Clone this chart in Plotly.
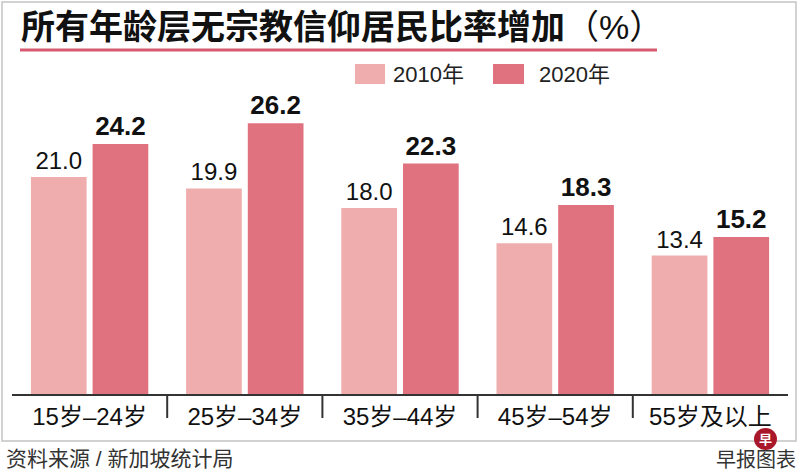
import plotly.graph_objects as go

# ---- data ----
categories = ["15岁–24岁", "25岁–34岁", "35岁–44岁", "45岁–54岁", "55岁及以上"]
rate_2010 = [21.0, 19.9, 18.0, 14.6, 13.4]
rate_2020 = [24.2, 26.2, 22.3, 18.3, 15.2]
series_names = ["2010年", "2020年"]
title_main = "所有年龄层无宗教信仰居民比率增加"
title_unit = "（%）"
source_text = "资料来源 / 新加坡统计局"
credit_text = "早报图表"
logo_char = "早"

# ---- style ----
C2010 = "#F0ADAE"
C2020 = "#E0727F"
FONT = "Liberation Sans, Noto Sans CJK SC, sans-serif"
W, H = 800, 471
L, R, T, B = 12, 12, 70, 77
pw, ph = W - L - R, H - T - B


def px(x):
    return (x - L) / pw


def py(y):
    return (H - B - y) / ph


fig = go.Figure()
fig.add_trace(go.Bar(
    x=categories, y=rate_2010, name=series_names[0], marker_color=C2010,
    marker_line_width=0, text=[f"{v:.1f}" for v in rate_2010],
    textposition="outside", textfont=dict(size=24, color="#111", family=FONT),
    constraintext="none", cliponaxis=False))
fig.add_trace(go.Bar(
    x=categories, y=rate_2020, name=series_names[1], marker_color=C2020,
    marker_line_width=0, text=[f"<b>{v:.1f}</b>" for v in rate_2020],
    textposition="outside", textfont=dict(size=26, color="#111", family=FONT),
    constraintext="none", cliponaxis=False))

shapes = []
# outer frame
shapes.append(dict(type="rect", xref="paper", yref="paper",
                   x0=px(2), x1=px(796), y0=py(2), y1=py(441),
                   line=dict(color="#C4C4C4", width=1.5), layer="below"))
# title underline
shapes.append(dict(type="line", xref="paper", yref="paper",
                   x0=px(20), x1=px(657), y0=py(50), y1=py(50),
                   line=dict(color="#D65A70", width=3)))
# category separators
for i in range(len(categories) - 1):
    shapes.append(dict(type="line", xref="x", yref="paper",
                       x0=i + 0.5, x1=i + 0.5, y0=0, y1=py(418),
                       line=dict(color="#333", width=2)))
# legend swatches
shapes.append(dict(type="rect", xref="paper", yref="paper",
                   x0=px(355), x1=px(385), y0=py(64), y1=py(84),
                   fillcolor=C2010, line_width=0))
shapes.append(dict(type="rect", xref="paper", yref="paper",
                   x0=px(493), x1=px(524), y0=py(64), y1=py(84),
                   fillcolor=C2020, line_width=0))
# logo circle
shapes.append(dict(type="circle", xref="paper", yref="paper",
                   x0=px(754), x1=px(777), y0=py(428), y1=py(450),
                   fillcolor="#A8182A", line_width=0))

annotations = [
    dict(text=f"<b>{title_main}</b>{title_unit}", xref="paper", yref="paper",
         x=px(19), y=py(27), xanchor="left", yanchor="middle", showarrow=False,
         font=dict(size=34, color="#111", family=FONT)),
    dict(text=series_names[0], xref="paper", yref="paper",
         x=px(391), y=py(74), xanchor="left", yanchor="middle", showarrow=False,
         font=dict(size=22, color="#222", family=FONT)),
    dict(text=series_names[1], xref="paper", yref="paper",
         x=px(537), y=py(74), xanchor="left", yanchor="middle", showarrow=False,
         font=dict(size=22, color="#222", family=FONT)),
    dict(text=source_text, xref="paper", yref="paper",
         x=px(4), y=py(458), xanchor="left", yanchor="middle", showarrow=False,
         font=dict(size=21, color="#333", family=FONT)),
    dict(text=credit_text, xref="paper", yref="paper",
         x=px(798), y=py(460), xanchor="right", yanchor="middle", showarrow=False,
         font=dict(size=20, color="#333", family=FONT)),
    dict(text=f"<b>{logo_char}</b>", xref="paper", yref="paper",
         x=px(765.5), y=py(439), xanchor="center", yanchor="middle", showarrow=False,
         font=dict(size=13, color="white", family=FONT), borderpad=0),
]

fig.update_layout(
    width=W, height=H,
    margin=dict(l=L, r=R, t=T, b=B, pad=0),
    paper_bgcolor="white", plot_bgcolor="white",
    barmode="group", bargap=0.205, bargroupgap=0.097,
    showlegend=False,
    shapes=shapes, annotations=annotations,
    font=dict(family=FONT),
)
fig.update_xaxes(showline=True, linecolor="#333", linewidth=2, ticks="",
                 showgrid=False, tickfont=dict(size=24, color="#111", family=FONT),
                 ticklabelstandoff=0)
fig.update_yaxes(range=[0, 31.36], visible=False, showgrid=False)

fig.write_html("out.html")
